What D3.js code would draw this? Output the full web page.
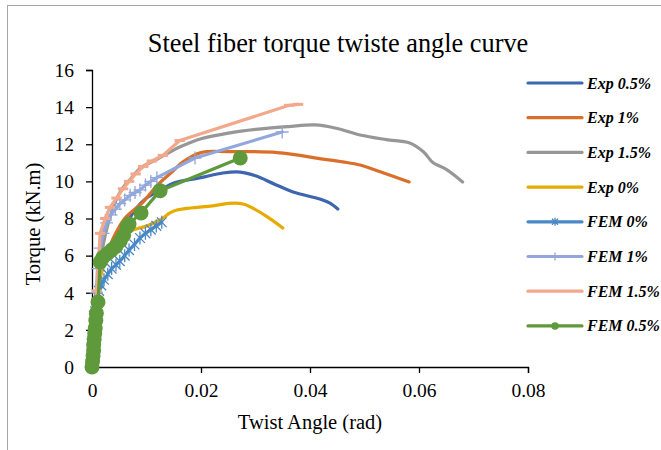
<!DOCTYPE html>
<meta charset="utf-8">
<style>
  body { margin: 0; background: #fff; }
  text { font-family: "Liberation Serif", "Times New Roman", serif; fill: #000; }
  .axis path, .axis line { stroke: #000; stroke-width: 1.3; }
  .axis text { font-size: 19.5px; }
  .legend text { font-size: 16px; font-weight: bold; font-style: italic; }
</style>
<body>
<script src="https://cdnjs.cloudflare.com/ajax/libs/d3/7.8.5/d3.min.js"></script>
<script>
var width = 661,
    height = 450;

// values
var names = ["Exp 0.5%", "Exp 1%", "Exp 1.5%", "Exp 0%", "FEM 0%", "FEM 1%", "FEM 1.5%", "FEM 0.5%"];
var colors = ["#3e65b0", "#da6f2b", "#979797", "#e5ab00", "#4a88c6", "#92a7db", "#f2a88b", "#5e9a3c"];
var markers = ["none", "none", "none", "none", "star", "plus", "dash", "circle"];

var exp05X = [0, 0.0005, 0.001, 0.002, 0.004, 0.006, 0.008, 0.010, 0.013, 0.0149, 0.02, 0.024, 0.0272, 0.030, 0.0335, 0.0369, 0.0418, 0.0435, 0.0451];
var exp05Y = [0, 2, 4, 5.5, 6.8, 7.6, 8.5, 9.1, 9.6, 9.9, 10.2, 10.45, 10.5, 10.3, 9.85, 9.43, 9.05, 8.85, 8.51];

var exp1X = [0, 0.0005, 0.001, 0.002, 0.004, 0.006, 0.0094, 0.012, 0.015, 0.0167, 0.02, 0.025, 0.034, 0.0424, 0.046, 0.0492, 0.053, 0.0582];
var exp1Y = [0, 2, 4, 5.5, 7, 8, 8.9, 9.8, 10.6, 11.05, 11.55, 11.6, 11.55, 11.2, 11.05, 10.88, 10.5, 9.97];

var exp15X = [0, 0.0005, 0.001, 0.002, 0.0039, 0.0055, 0.0073, 0.0088, 0.012, 0.0161, 0.02, 0.025, 0.03, 0.036, 0.0409, 0.045, 0.0492, 0.054, 0.0583, 0.0608, 0.0626, 0.065, 0.068];
var exp15Y = [0, 2, 4, 6.5, 8.6, 9.6, 10.2, 10.7, 11.2, 11.85, 12.3, 12.6, 12.8, 12.95, 13.04, 12.85, 12.5, 12.25, 12.07, 11.6, 11.0, 10.65, 9.97];

var exp0X = [0, 0.0005, 0.001, 0.002, 0.004, 0.007, 0.010, 0.0125, 0.0143, 0.0156, 0.0217, 0.0277, 0.035];
var exp0Y = [0, 2, 4, 5.3, 6.5, 7.3, 7.6, 7.92, 8.3, 8.46, 8.67, 8.78, 7.49];

var fem0X = [0, 0.0001, 0.0002, 0.0003, 0.0004, 0.0005, 0.0006, 0.0008, 0.001, 0.0013, 0.0017, 0.0022, 0.0029, 0.0036, 0.0044, 0.0051, 0.006, 0.0068, 0.0078, 0.0088, 0.0098, 0.0108, 0.0118, 0.0128];
var fem0Y = [0, 0.5, 1, 1.5, 2, 2.5, 3, 3.4, 3.8, 4.1, 4.4, 4.7, 5.0, 5.3, 5.5, 5.7, 6.0, 6.3, 6.6, 6.95, 7.2, 7.4, 7.6, 7.8];

var fem1X = [0, 0.0002, 0.0004, 0.0006, 0.0008, 0.001, 0.0015, 0.002, 0.0027, 0.0035, 0.0043, 0.0051, 0.006, 0.007, 0.0079, 0.0088, 0.0098, 0.0108, 0.0119, 0.0189, 0.0349];
var fem1Y = [0, 1, 2, 3, 4, 5.3, 6.4, 7.2, 7.76, 8.2, 8.5, 8.8, 9.0, 9.25, 9.4, 9.54, 9.8, 10.0, 10.2, 11.26, 12.66];

var fem15X = [0, 0.0003, 0.0006, 0.0009, 0.0012, 0.0015, 0.0024, 0.0033, 0.0045, 0.0057, 0.0068, 0.008, 0.0094, 0.011, 0.013, 0.0161, 0.0362, 0.0378];
var fem15Y = [0, 1.5, 3, 4.1, 5.8, 7.2, 8.0, 8.6, 9.1, 9.6, 10.0, 10.4, 10.8, 11.1, 11.4, 12.2, 14.1, 14.15];

var fem05X = [0, 0.0001, 0.0002, 0.0003, 0.0003, 0.0004, 0.0005, 0.0006, 0.0007, 0.0008, 0.0011, 0.0015, 0.002, 0.0028, 0.0036, 0.0044, 0.0052, 0.0058, 0.0064, 0.0068, 0.009, 0.0125, 0.0272];
var fem05Y = [0, 0.3, 0.6, 0.9, 1.2, 1.5, 1.8, 2.1, 2.5, 2.9, 3.5, 5.66, 5.9, 6.1, 6.3, 6.5, 6.8, 7.1, 7.54, 7.7, 8.3, 9.5, 11.26];

var xsAll = [exp05X, exp1X, exp15X, exp0X, fem0X, fem1X, fem15X, fem05X];
var ysAll = [exp05Y, exp1Y, exp15Y, exp0Y, fem0Y, fem1Y, fem15Y, fem05Y];

var xTicks = [0, 0.02, 0.04, 0.06, 0.08];
var yTicks = [0, 2, 4, 6, 8, 10, 12, 14, 16];

var series = names.map(function(n, i) {
  return {
    name: n, color: colors[i], marker: markers[i], smooth: i < 4,
    values: xsAll[i].map(function(x, j) { return [x, ysAll[i][j]]; })
  };
});

var svg = d3.select("body").append("svg")
    .attr("width", width)
    .attr("height", height);

svg.append("rect")
    .attr("x", 7.5).attr("y", 5.5)
    .attr("width", 700).attr("height", 500)
    .attr("fill", "none").attr("stroke", "#a6a6a6");

var x = d3.scaleLinear().domain([0, 0.08]).range([92, 528]);
var y = d3.scaleLinear().domain([0, 16]).range([367, 70]);

svg.append("g")
    .attr("class", "axis")
    .attr("transform", "translate(0,367)")
    .call(d3.axisBottom(x).tickValues(xTicks).tickSize(6).tickSizeOuter(6).tickPadding(10)
      .tickFormat(function(d) { return d === 0 ? "0" : d3.format(".2f")(d); }));

svg.append("g")
    .attr("class", "axis")
    .attr("transform", "translate(92,0)")
    .call(d3.axisLeft(y).tickValues(yTicks).tickSize(6).tickSizeOuter(6).tickPadding(12));

svg.append("text")
    .attr("x", 338).attr("y", 52)
    .attr("text-anchor", "middle")
    .style("font-size", "26.3px")
    .text("Steel fiber torque twiste angle curve");

svg.append("text")
    .attr("x", 310).attr("y", 429)
    .attr("text-anchor", "middle")
    .style("font-size", "20.5px")
    .text("Twist Angle (rad)");

svg.append("text")
    .attr("transform", "translate(40,224) rotate(-90)")
    .attr("text-anchor", "middle")
    .style("font-size", "20.5px")
    .text("Torque (kN.m)");

function drawMarker(g, type, color, s) {
  if (type === "circle") {
    g.append("circle").attr("r", s * 0.75).attr("fill", color);
  } else if (type === "plus") {
    g.append("path").attr("d", "M" + (-s) + ",0H" + s + "M0," + (-s) + "V" + s)
      .attr("stroke", color).attr("stroke-width", 1.3);
  } else if (type === "star") {
    var a = s * 0.75;
    g.append("path")
      .attr("d", "M" + (-a) + "," + (-a) + "L" + a + "," + a + "M" + (-a) + "," + a + "L" + a + "," + (-a) + "M0," + (-s) + "V" + s)
      .attr("stroke", color).attr("stroke-width", 1.3);
  } else if (type === "dash") {
    g.append("path").attr("d", "M" + (-s * 0.8) + ",0H" + (s * 0.8))
      .attr("stroke", color).attr("stroke-width", 3);
  }
}

var line = d3.line()
    .x(function(d) { return x(d[0]); })
    .y(function(d) { return y(d[1]); });

var plot = svg.append("g");

series.forEach(function(s) {
  var g = plot.append("g");
  g.append("path")
      .datum(s.values)
      .attr("fill", "none")
      .attr("stroke", s.color)
      .attr("stroke-width", 3.2)
      .attr("stroke-linejoin", "round")
      .attr("stroke-linecap", "round")
      .attr("d", line.curve(s.smooth ? d3.curveCatmullRom.alpha(0.5) : d3.curveLinear));
  if (s.marker !== "none") {
    g.selectAll(".m")
      .data(s.values)
    .enter().append("g")
      .attr("transform", function(d) { return "translate(" + x(d[0]) + "," + y(d[1]) + ")"; })
      .each(function() { drawMarker(d3.select(this), s.marker, s.color, s.marker === "circle" ? 10 : 6.5); });
  }
});

// legend
var legend = svg.append("g").attr("class", "legend");
series.forEach(function(s, i) {
  var ly = 83 + i * 34.7;
  legend.append("line")
      .attr("x1", 528).attr("x2", 582)
      .attr("y1", ly).attr("y2", ly)
      .attr("stroke", s.color).attr("stroke-width", 3.2)
      .attr("stroke-linecap", "round");
  if (s.marker !== "none" && s.marker !== "dash") {
    var mg = legend.append("g").attr("transform", "translate(555," + ly + ")");
    drawMarker(mg, s.marker, s.color, s.marker === "circle" ? 5 : 4);
  }
  legend.append("text")
      .attr("x", 587).attr("y", ly + 5.5)
      .text(s.name);
});
</script>
